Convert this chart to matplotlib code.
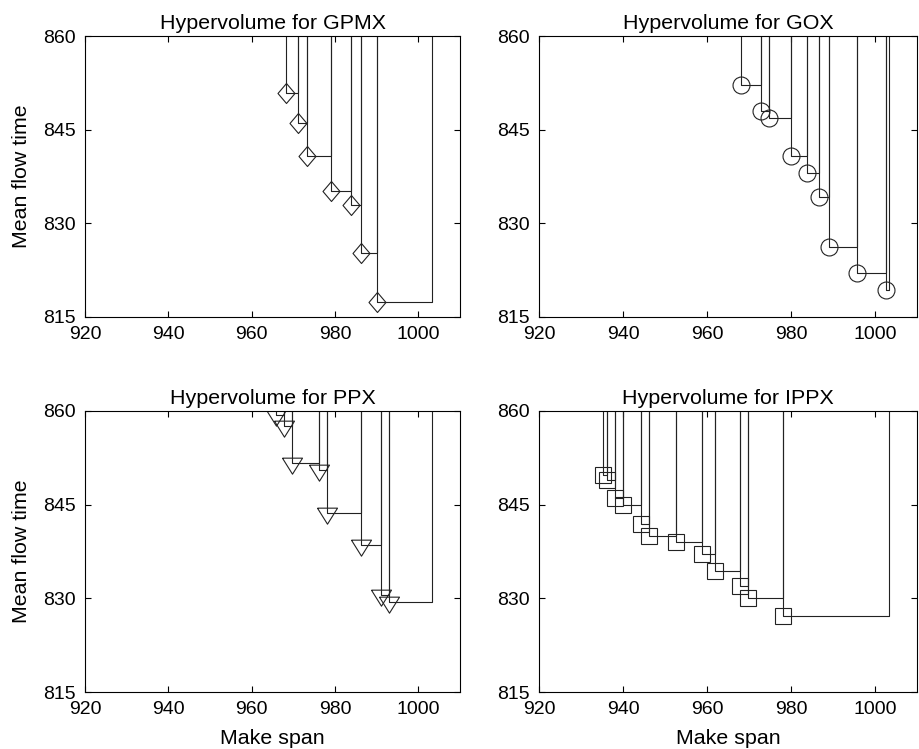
import numpy as np
import matplotlib.pyplot as plt

plt.rcParams['font.family'] = ['Liberation Sans', 'DejaVu Sans']

# reference point of the hypervolume
ref_x = 1003.3
ref_y = 860

gpmx_x = [968.2, 971.0, 973.3, 979.0, 983.8, 986.2, 990.0]
gpmx_y = [850.9, 846.0, 840.8, 835.1, 832.9, 825.2, 817.3]

gox_x = [968.2, 972.8, 974.8, 980.0, 983.8, 986.6, 989.0, 995.6, 1002.7]
gox_y = [852.1, 847.9, 846.9, 840.8, 838.0, 834.2, 826.1, 822.0, 819.2]

ppx_x = [965.8, 967.8, 969.7, 976.1, 978.0, 986.2, 991.0, 992.9]
ppx_y = [859.3, 857.6, 851.6, 850.6, 843.7, 838.5, 830.5, 829.4]

ippx_x = [935.2, 936.2, 938.1, 940.0, 944.4, 946.1, 952.7, 958.9, 961.8, 967.9, 969.8, 978.0]
ippx_y = [849.8, 848.9, 846.0, 845.0, 841.9, 840.0, 839.0, 837.1, 834.3, 832.0, 830.1, 827.2]

xticks = [920, 940, 960, 980, 1000]
yticks = [815, 830, 845, 860]

# marker shapes like the matlab ones
diamond = [(0, 1), (0.85, 0), (0, -1), (-0.85, 0), (0, 1)]
tri_down = [(-10, 5.33), (10, 5.33), (0, -10.67), (-10, 5.33)]


def draw_front(ax, xs, ys, marker, ms):
    x_next = list(xs[1:]) + [ref_x]
    for x0, y0, x1 in zip(xs, ys, x_next):
        ax.plot([x0, x0, x1, x1], [ref_y, y0, y0, ref_y], color='#222222', lw=0.8)
    ax.plot(xs, ys, linestyle='none', marker=marker, ms=ms, mfc='none',
            mec='#222222', mew=0.8)


def style(ax, title, xlabel=None, ylabel=None):
    ax.set_xlim(920, 1010)
    ax.set_ylim(815, 860)
    ax.set_xticks(xticks)
    ax.set_yticks(yticks)
    ax.tick_params(direction='in', top=True, right=True, length=4, width=0.8,
                   labelsize=14, pad=6.5)
    for s in ax.spines.values():
        s.set_linewidth(0.8)
    ax.set_title(title, fontsize=15.4, pad=5)
    if xlabel:
        ax.set_xlabel(xlabel, fontsize=15.4, labelpad=8)
    if ylabel:
        ax.set_ylabel(ylabel, fontsize=15.4, labelpad=9)


fig = plt.figure(figsize=(9.19, 7.49), dpi=100)
ax1 = fig.add_axes([0.0925, 0.5774, 0.4081, 0.3745])
ax2 = fig.add_axes([0.5865, 0.5774, 0.4113, 0.3745])
ax3 = fig.add_axes([0.0925, 0.0761, 0.4081, 0.3752])
ax4 = fig.add_axes([0.5865, 0.0761, 0.4113, 0.3752])

draw_front(ax1, gpmx_x, gpmx_y, diamond, 14.4)
draw_front(ax2, gox_x, gox_y, 'o', 12.2)
draw_front(ax3, ppx_x, ppx_y, tri_down, 15.4)
draw_front(ax4, ippx_x, ippx_y, 's', 11.5)

style(ax1, "Hypervolume for GPMX", ylabel="Mean flow time")
style(ax2, "Hypervolume for GOX")
style(ax3, "Hypervolume for PPX", xlabel="Make span", ylabel="Mean flow time")
style(ax4, "Hypervolume for IPPX", xlabel="Make span")

fig.savefig("out.png", dpi=100)
